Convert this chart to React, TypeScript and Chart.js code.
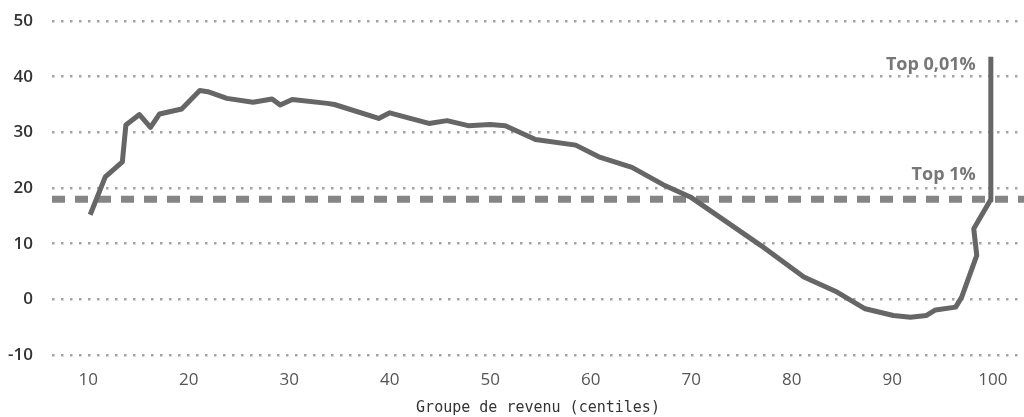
import React, { useEffect, useRef } from "react";
import { Chart, registerables } from "chart.js";

Chart.register(...registerables);

// Income group (centile) positions and corresponding values
const centiles = [
  10.2, 11.7, 13.4, 13.75, 15.1, 16.2, 17.1, 19.3, 21.1, 21.9, 23.8, 26.4, 28.3, 29.1, 30.3,
  33.8, 34.5, 38.9, 40.0, 43.9, 45.7, 47.8, 50.0, 51.5, 54.5, 58.5, 60.8, 64.1, 67.2, 69.9,
  76.9, 81.2, 84.5, 87.3, 90.1, 91.8, 93.4, 94.3, 96.3, 96.9, 98.4, 98.1, 99.75, 99.8,
];
const values = [
  15.2, 22.0, 24.7, 31.3, 33.2, 30.9, 33.3, 34.2, 37.5, 37.3, 36.1, 35.4, 36.0, 34.9, 35.9,
  35.2, 35.0, 32.5, 33.5, 31.6, 32.1, 31.2, 31.4, 31.2, 28.7, 27.7, 25.6, 23.7, 20.6, 18.4,
  9.7, 4.0, 1.3, -1.7, -2.9, -3.2, -2.9, -1.9, -1.4, 0.4, 7.9, 12.7, 17.8, 43.6,
];

const referenceLevel = 18;
const xRange = [6.4, 103.1];
const yRange = [-10, 50];
const xTicks = [10, 20, 30, 40, 50, 60, 70, 80, 90, 100];
const xTitle = "Groupe de revenu (centiles)";

const labelTexts = ["Top 0,01%", "Top 1%"];
const labelX = [98.3, 98.3];
const labelY = [42.1, 22.3];

const labelsPlugin = {
  id: "textLabels",
  afterDatasetsDraw(chart: any) {
    const { ctx, scales } = chart;
    ctx.save();
    ctx.font = "bold 18px 'Open Sans'";
    ctx.fillStyle = "#777777";
    ctx.textAlign = "right";
    ctx.textBaseline = "middle";
    labelTexts.forEach((t, i) => {
      ctx.fillText(t, scales.x.getPixelForValue(labelX[i]), scales.y.getPixelForValue(labelY[i]));
    });
    ctx.restore();
  },
};

export default function App() {
  const ref = useRef<HTMLCanvasElement | null>(null);

  useEffect(() => {
    if (!ref.current) return;
    const mainData = centiles.map((x, i) => ({ x, y: values[i] }));
    const refData = xRange.map((x) => ({ x, y: referenceLevel }));
    const chart = new Chart(ref.current, {
      type: "line",
      data: {
        datasets: [
          {
            data: mainData,
            borderColor: "#666666",
            borderWidth: 5,
            pointRadius: 0,
            tension: 0,
            borderJoinStyle: "round",
            borderCapStyle: "butt",
          },
          {
            data: refData,
            borderColor: "#858585",
            borderWidth: 7,
            borderDash: [13, 10],
            pointRadius: 0,
            tension: 0,
          },
        ],
      } as any,
      options: {
        animation: false,
        responsive: true,
        maintainAspectRatio: false,
        layout: { padding: { top: 21, left: 0, right: 0, bottom: 0 } },
        plugins: {
          legend: { display: false },
          tooltip: { enabled: false },
        },
        scales: {
          x: {
            type: "linear",
            min: xRange[0],
            max: xRange[1],
            afterBuildTicks: (s: any) => {
              s.ticks = xTicks.map((v) => ({ value: v }));
            },
            afterFit: (s: any) => {
              s.height = 62;
              s.paddingLeft = 0;
              s.paddingRight = 0;
            },
            grid: { display: false, drawTicks: false },
            border: { display: false },
            ticks: {
              color: "#555555",
              font: { family: "'Open Sans'", size: 17 },
              padding: 15,
              maxRotation: 0,
              autoSkip: false,
            },
            title: {
              display: true,
              text: xTitle,
              color: "#333333",
              font: { family: "'DejaVu Sans Mono'", size: 15 },
              padding: { top: 0, bottom: 0 },
            },
          },
          y: {
            min: yRange[0],
            max: yRange[1],
            afterFit: (s: any) => {
              s.width = 52;
              s.paddingTop = 0;
              s.paddingBottom = 0;
            },
            ticks: {
              stepSize: 10,
              color: "#333333",
              font: { family: "'Open Sans'", size: 17, weight: 600 },
              padding: 19,
            },
            grid: { color: "#a3a3a3", lineWidth: 2.5, drawTicks: false },
            border: { display: false, dash: [2.5, 6.5] },
          },
        },
      } as any,
      plugins: [labelsPlugin],
    });
    return () => chart.destroy();
  }, []);

  return (
    <div style={{ position: "absolute", left: 0, top: 0, width: 1024, height: 417, background: "#fff" }}>
      <canvas ref={ref} />
    </div>
  );
}
